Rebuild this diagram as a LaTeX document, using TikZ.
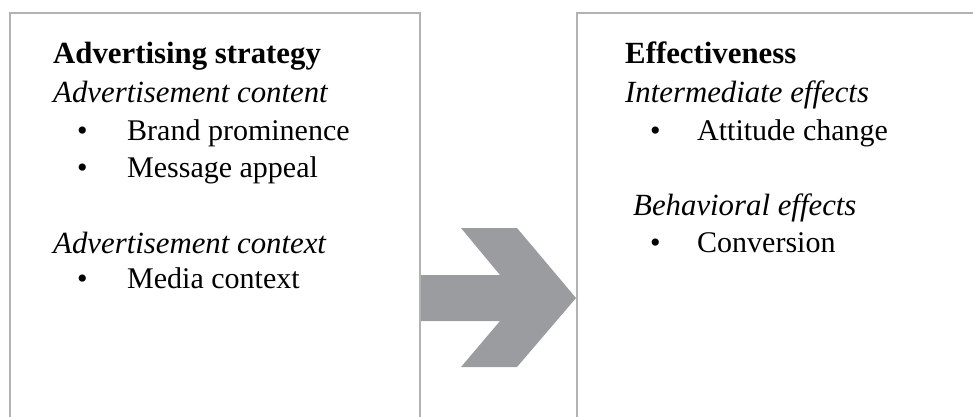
\documentclass[tikz,border=0pt]{standalone}
\usepackage{fontspec}
\setmainfont{Liberation Serif}
\definecolor{boxgray}{HTML}{B2B2B2}
\definecolor{arrowgray}{HTML}{9B9C9F}
\begin{document}
\begin{tikzpicture}[x=1pt,y=-1pt,
  frame/.style={draw=boxgray,line width=1.6pt},
  txt/.style={anchor=base west,inner sep=0pt,font=\fontsize{30}{36}\selectfont},
  head/.style={txt,font=\fontsize{30.8}{36}\selectfont\bfseries},
  sub/.style={txt,font=\fontsize{30.8}{36}\selectfont\itshape},
  bul/.style={txt},
]
\useasboundingbox (0,0) rectangle (973,416);
\clip (0,0) rectangle (973,416);

% the two panels (open at the bottom/right edge of the page)
\draw[frame] (10,440) -- (10,13) -- (420,13) -- (420,440);
\draw[frame] (577,440) -- (577,13) -- (990,13);

% block arrow between the panels
\fill[arrowgray] (421,275) -- (500,275) -- (461,228) -- (517,228) -- (576,298)
  -- (517,367) -- (461,367) -- (500,321) -- (421,321) -- cycle;

% left panel
\node[head] (strat) at (53,63) {Advertising strategy};
\node[sub]  (cont)  at (53,102) {Advertisement content};
\node[bul]  (b1)    at (77,140) {•};
\node[txt]  (brand) at (127,140) {Brand prominence};
\node[bul]  (b2)    at (77,177) {•};
\node[txt]  (msg)   at (127,177) {Message appeal};
\node[sub]  (ctx)   at (53,253) {Advertisement context};
\node[bul]  (b3)    at (77,288) {•};
\node[txt]  (media) at (127,288) {Media context};

% right panel
\node[head] (eff)   at (625,63) {Effectiveness};
\node[sub]  (inter) at (625,102) {Intermediate effects};
\node[bul]  (b4)    at (650,140) {•};
\node[txt]  (att)   at (697,140) {Attitude change};
\node[sub]  (behav) at (633,215) {Behavioral effects};
\node[bul]  (b5)    at (650,252) {•};
\node[txt]  (conv)  at (697,252) {Conversion};
\end{tikzpicture}
\end{document}
